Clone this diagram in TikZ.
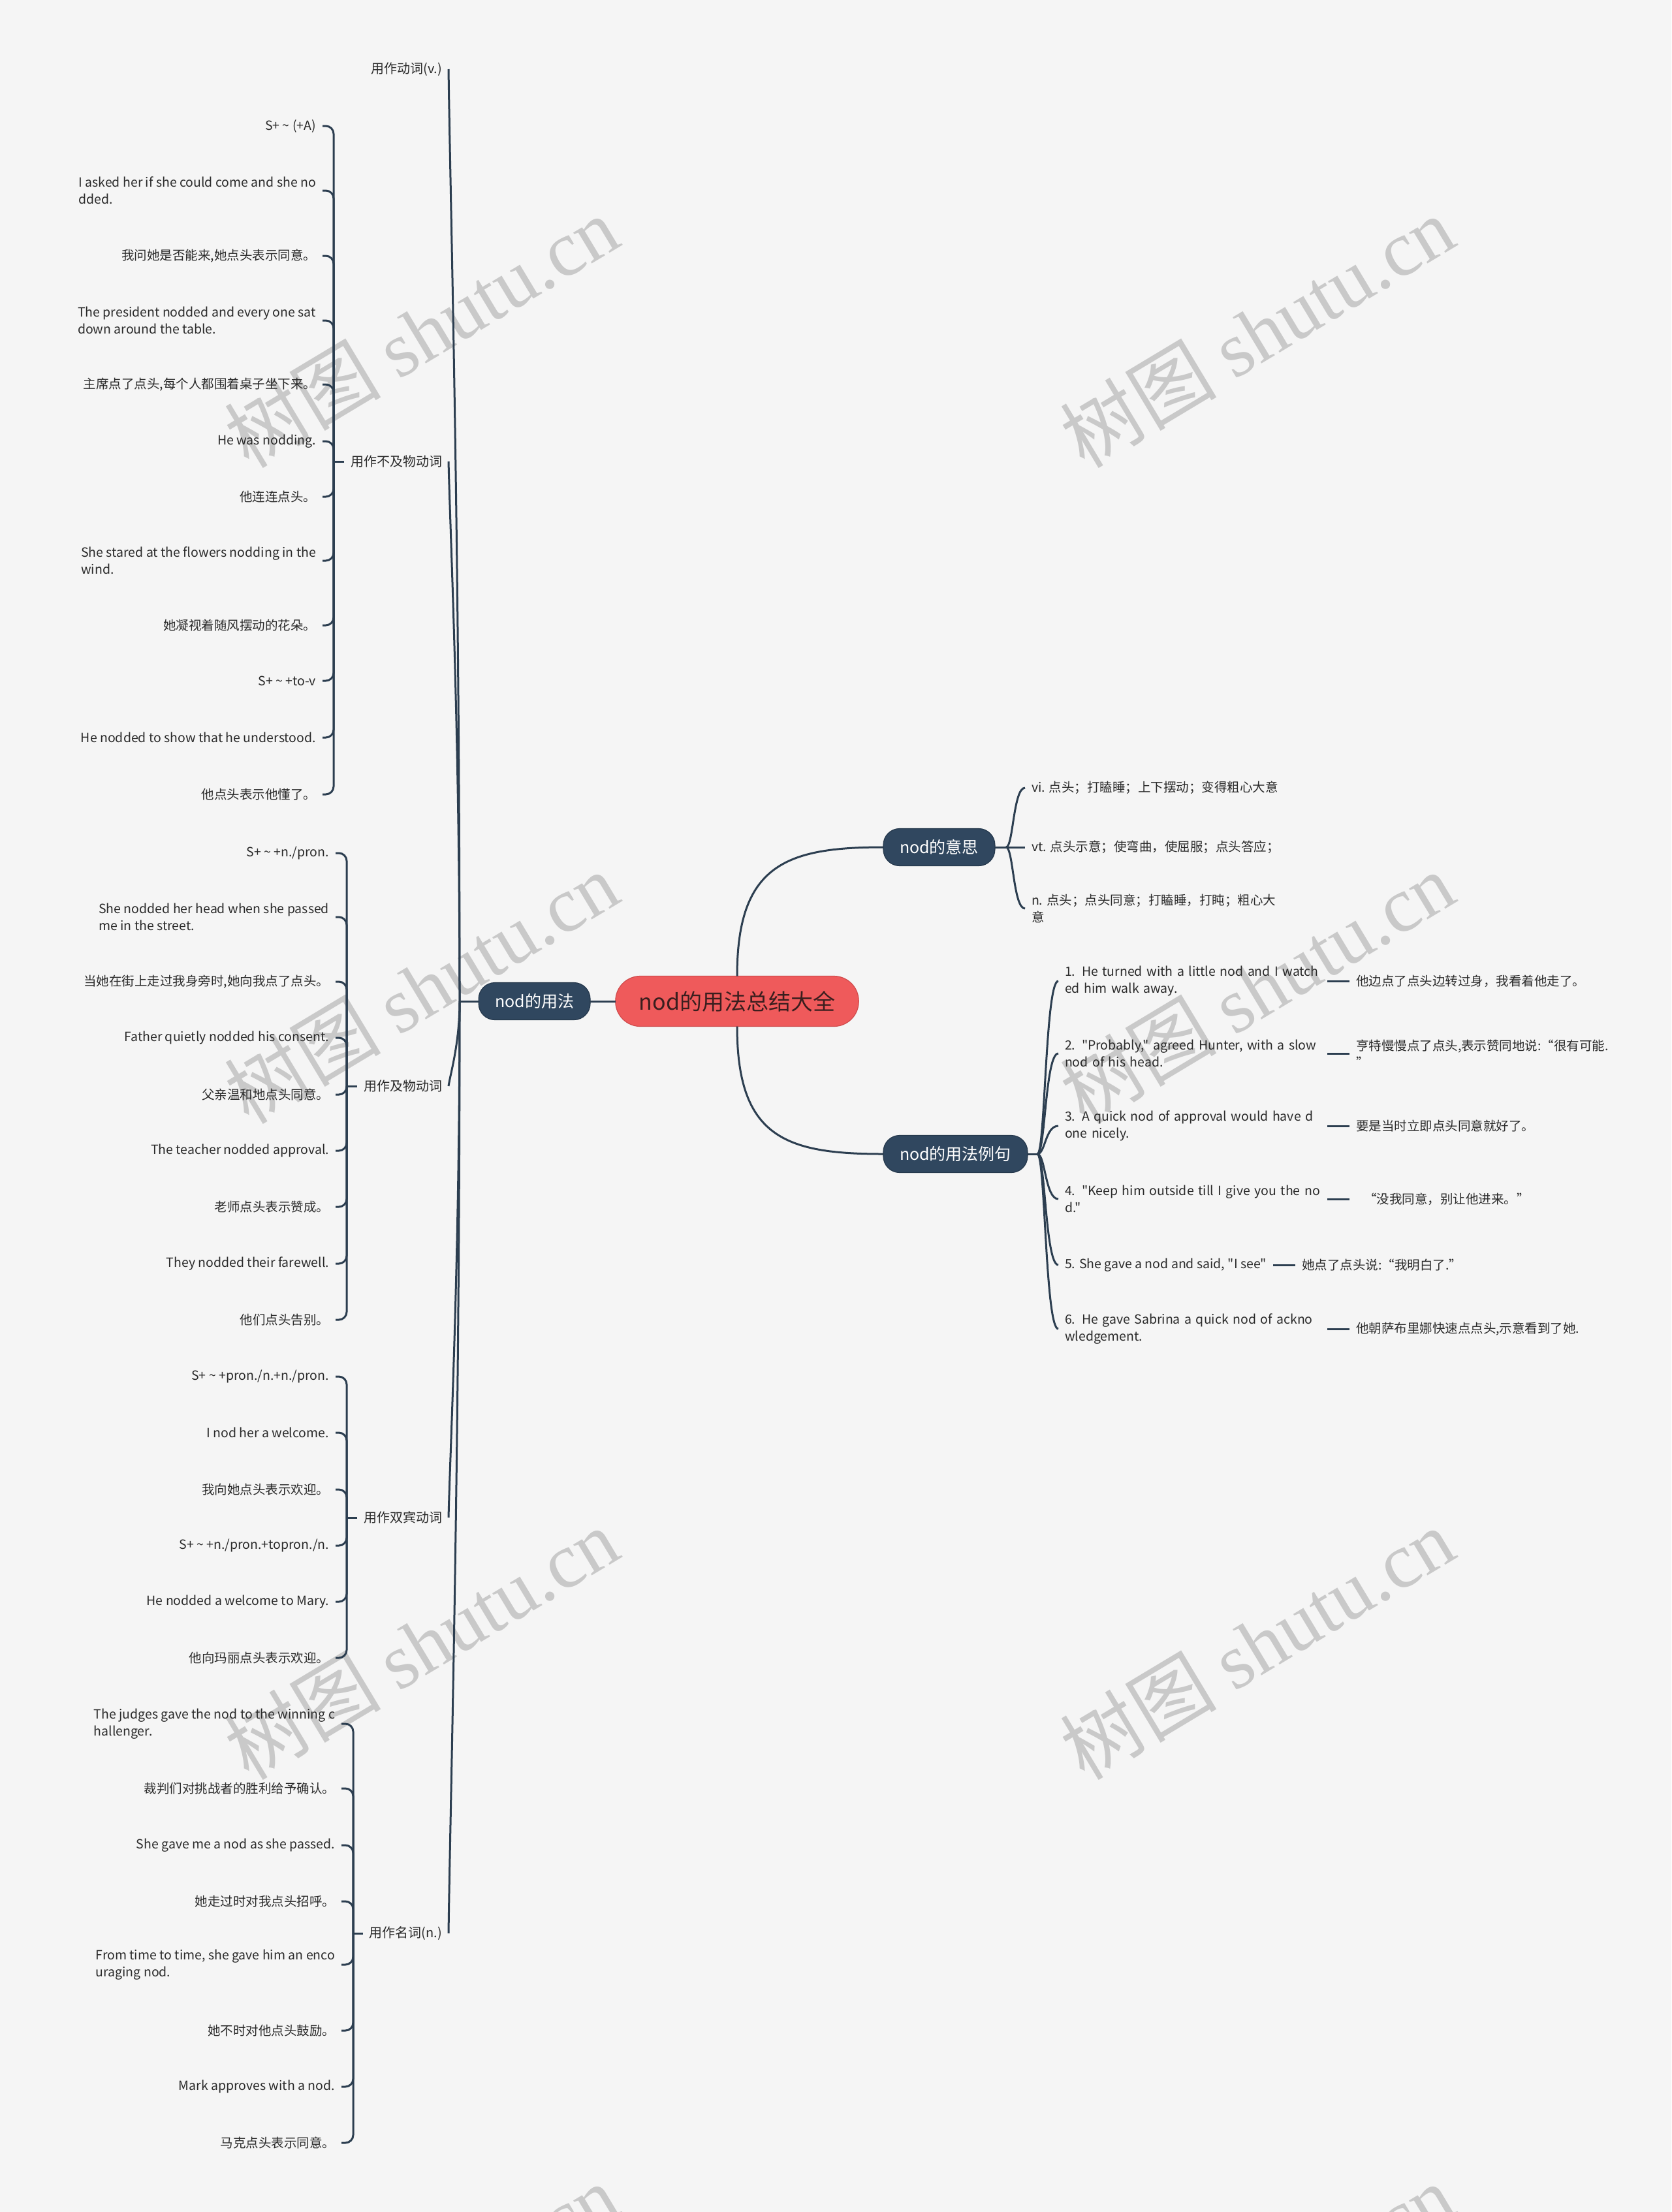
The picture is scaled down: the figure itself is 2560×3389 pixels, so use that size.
\documentclass[tikz,border=0pt]{standalone}
\usepackage{fontspec}
\setmainfont{Noto Sans CJK SC}[Ligatures=TeXOff]
\newfontfamily\wmlatin{Liberation Serif}
\usetikzlibrary{positioning}
\definecolor{bg}{HTML}{F5F5F5}
\definecolor{lc}{HTML}{2C3E50}
\definecolor{nodeblue}{HTML}{30475F}
\definecolor{nodeedge}{HTML}{25384C}
\definecolor{rootred}{HTML}{EF5A5B}
\definecolor{rootedge}{HTML}{D04B4C}
\definecolor{roottext}{HTML}{3A1E1E}
\definecolor{tc}{HTML}{2A2A2A}
\definecolor{wm}{HTML}{C9C9C9}
\newcommand\tld{\symbol{126}}
\newcommand\sdq{\symbol{34}}
\begin{document}
\begin{tikzpicture}[x=1pt,y=-1pt,
  conn/.style={draw=lc, line width=3pt},
  br/.style={draw=lc, line width=3pt, rounded corners=12pt},
  leaf/.style={font=\fontsize{19.5}{26}\selectfont, text=tc, inner xsep=10pt, inner ysep=3pt, outer sep=0pt, anchor=east},
  wrap/.style={align=left},
  ewrap/.style={text width=392pt, align=left},
  lone/.style={font=\fontsize{20}{26}\selectfont, text=tc, inner xsep=10pt, inner ysep=3pt, outer sep=0pt, anchor=east},
  mb/.style={fill=nodeblue, draw=nodeedge, line width=1.2pt, text=white, font=\fontsize{25}{29}\selectfont, rounded corners=25pt, minimum height=57pt, inner xsep=25pt, outer sep=0pt},
  root/.style={fill=rootred, draw=rootedge, line width=1.2pt, text=roottext, font=\fontsize{34}{40}\selectfont, rounded corners=38pt, minimum height=77pt, inner xsep=36pt, outer sep=0pt},
  wmk/.style={text=wm, font=\fontsize{120}{120}\selectfont, rotate=31, inner sep=0pt}
]
\useasboundingbox (0,0) rectangle (2560,3389);
\fill[bg] (0,0) rectangle (2560,3389);

% watermarks
\foreach \wy in {508,1513,2518,3523}{
  \node[wmk] at (645,\wy) {树图 {\wmlatin shutu.cn}};
  \node[wmk] at (1925,\wy) {树图 {\wmlatin shutu.cn}};
}

% root and main branches
\node[root] (root) at (1129,1534) {nod的用法总结大全};
\node[mb, anchor=east] (yf) at (904,1534) {nod的用法};
\node[mb, anchor=west] (ys) at (1353,1298) {nod的意思};
\node[mb, anchor=west] (lj) at (1353,1768) {nod的用法例句};

% level 1 on the left
\node[lone] (v) at (687,106) {用作动词(v.)};
\node[lone] (i) at (687,707) {用作不及物动词};
\node[lone] (t) at (687,1664) {用作及物动词};
\node[lone] (d) at (687,2325) {用作双宾动词};
\node[lone] (n) at (687,2962) {用作名词(n.)};

% intransitive
\node[leaf] (i1) at (494,193) {S+ \tld\ (+A)};
\node[leaf, wrap] (i2) at (494,292) {I asked her if she could come and she no\\dded.};
\node[leaf] (i3) at (494,392) {我问她是否能来,她点头表示同意。};
\node[leaf, wrap] (i4) at (494,491) {The president nodded and every one sat\\down around the table.};
\node[leaf] (i5) at (494,589) {主席点了点头,每个人都围着桌子坐下来。};
\node[leaf] (i6) at (494,676) {He was nodding.};
\node[leaf] (i7) at (494,761) {他连连点头。};
\node[leaf, wrap] (i8) at (494,859) {She stared at the flowers nodding in the\\wind.};
\node[leaf] (i9) at (494,958) {她凝视着随风摆动的花朵。};
\node[leaf] (i10) at (494,1043) {S+ \tld\ +to-v};
\node[leaf] (i11) at (494,1130) {He nodded to show that he understood.};
\node[leaf] (i12) at (494,1217) {他点头表示他懂了。};

% transitive
\node[leaf] (t1) at (514,1307) {S+ \tld\ +n./pron.};
\node[leaf, wrap] (t2) at (514,1405) {She nodded her head when she passed\\me in the street.};
\node[leaf] (t3) at (514,1504) {当她在街上走过我身旁时,她向我点了点头。};
\node[leaf] (t4) at (514,1590) {Father quietly nodded his consent.};
\node[leaf] (t5) at (514,1677) {父亲温和地点头同意。};
\node[leaf] (t6) at (514,1763) {The teacher nodded approval.};
\node[leaf] (t7) at (514,1849) {老师点头表示赞成。};
\node[leaf] (t8) at (514,1936) {They nodded their farewell.};
\node[leaf] (t9) at (514,2022) {他们点头告别。};

% ditransitive
\node[leaf] (d1) at (514,2109) {S+ \tld\ +pron./n.+n./pron.};
\node[leaf] (d2) at (514,2195) {I nod her a welcome.};
\node[leaf] (d3) at (514,2282) {我向她点头表示欢迎。};
\node[leaf] (d4) at (514,2368) {S+ \tld\ +n./pron.+topron./n.};
\node[leaf] (d5) at (514,2454) {He nodded a welcome to Mary.};
\node[leaf] (d6) at (514,2540) {他向玛丽点头表示欢迎。};

% noun
\node[leaf, wrap] (n1) at (523,2641) {The judges gave the nod to the winning c\\hallenger.};
\node[leaf] (n2) at (523,2740) {裁判们对挑战者的胜利给予确认。};
\node[leaf] (n3) at (523,2827) {She gave me a nod as she passed.};
\node[leaf] (n4) at (523,2913) {她走过时对我点头招呼。};
\node[leaf, wrap] (n5) at (523,3010) {From time to time, she gave him an enco\\uraging nod.};
\node[leaf] (n6) at (523,3111) {她不时对他点头鼓励。};
\node[leaf] (n7) at (523,3197) {Mark approves with a nod.};
\node[leaf] (n8) at (523,3283) {马克点头表示同意。};

% meanings
\node[leaf, anchor=west] (m1) at (1570,1207) {vi. 点头；打瞌睡；上下摆动；变得粗心大意};
\node[leaf, anchor=west] (m2) at (1570,1298) {vt. 点头示意；使弯曲，使屈服；点头答应；};
\node[leaf, anchor=west, align=left] (m3) at (1570,1392) {n. 点头；点头同意；打瞌睡，打盹；粗心大\\意};

% examples
\node[leaf, anchor=west, ewrap] (e1) at (1621,1503) {\mbox{1. He turned with a little nod and I watch}\\\mbox{ed him walk away.}};
\node[leaf, anchor=west, ewrap] (e2) at (1621,1614) {\mbox{2. \sdq Probably,\sdq\ agreed Hunter, with a slow}\\\mbox{nod of his head.}};
\node[leaf, anchor=west, ewrap] (e3) at (1621,1725) {\mbox{3. A quick nod of approval would have d}\\\mbox{one nicely.}};
\node[leaf, anchor=west, ewrap] (e4) at (1621,1837) {\mbox{4. \sdq Keep him outside till I give you the no}\\\mbox{d.\sdq}};
\node[leaf, anchor=west] (e5) at (1621,1938) {5. She gave a nod and said, \sdq I see\sdq};
\node[leaf, anchor=west, ewrap] (e6) at (1621,2036) {\mbox{6. He gave Sabrina a quick nod of ackno}\\\mbox{wledgement.}};

\node[leaf, anchor=west, right=34pt of e1] (c1) {他边点了点头边转过身，我看着他走了。};
\node[leaf, anchor=west, right=34pt of e2, align=left] (c2) {亨特慢慢点了点头,表示赞同地说:“很有可能.\\”};
\node[leaf, anchor=west, right=34pt of e3] (c3) {要是当时立即点头同意就好了。};
\node[leaf, anchor=west, right=34pt of e4] (c4) {\hspace{12pt}“没我同意，别让他进来。”};
\node[leaf, anchor=west, right=34pt of e5] (c5) {她点了点头说:“我明白了.”};
\node[leaf, anchor=west, right=34pt of e6] (c6) {他朝萨布里娜快速点点头,示意看到了她.};

% ---- connectors ----
\draw[conn] (root.west) -- (yf.east);
\draw[conn] (root.north) .. controls +(0,-170) and +(-150,0) .. (ys.west);
\draw[conn] (root.south) .. controls +(0,170) and +(-150,0) .. (lj.west);

\coordinate (uj) at (704,1534);
\draw[conn] (yf.west) -- (uj);
\draw[conn] (uj) .. controls +(0,-714) and +(3,214) .. (v.east);
\draw[conn] (uj) .. controls +(0,-414) and +(3,124) .. (i.east);
\draw[conn] (uj) .. controls +(0,65) and +(3,-20) .. (t.east);
\draw[conn] (uj) .. controls +(0,396) and +(3,-119) .. (d.east);
\draw[conn] (uj) .. controls +(0,714) and +(3,-214) .. (n.east);

\coordinate (ib) at (511,707);
\coordinate (tb) at (531,1664);
\coordinate (db) at (531,2325);
\coordinate (nb) at (541,2962);
\draw[conn] (i.west) -- (ib);
\draw[conn] (t.west) -- (tb);
\draw[conn] (d.west) -- (db);
\draw[conn] (n.west) -- (nb);
\foreach \k in {1,...,12} \draw[br] (ib) |- (i\k.east);
\foreach \k in {1,...,9} \draw[br] (tb) |- (t\k.east);
\foreach \k in {1,...,6} \draw[br] (db) |- (d\k.east);
\foreach \k in {1,...,8} \draw[br] (nb) |- (n\k.east);

\coordinate (sj) at (1541,1298);
\draw[conn] (ys.east) -- (sj);
\foreach \k in {1,2,3} \draw[conn] (sj) .. controls +(11,0) and +(-18,0) .. (m\k.west);

\coordinate (lj2) at (1589,1768);
\draw[conn] (lj.east) -- (lj2);
\foreach \k in {1,...,6} \draw[conn] (lj2) .. controls +(12,0) and +(-20,0) .. (e\k.west);
\foreach \k in {1,...,6} \draw[conn] (e\k.east) -- (c\k.west);
\end{tikzpicture}
\end{document}
